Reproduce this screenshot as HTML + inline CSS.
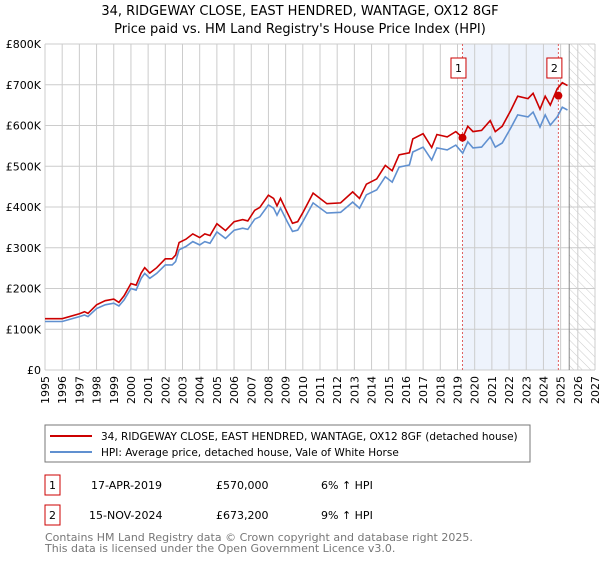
<!DOCTYPE html>
<html><head><meta charset="utf-8"><style>
body{margin:0;background:#fff;font-family:"DejaVu Sans","Liberation Sans",sans-serif}
svg text{font-family:"DejaVu Sans","Liberation Sans",sans-serif}
</style></head><body>
<svg id="c" width="600" height="560" xmlns="http://www.w3.org/2000/svg">
<defs><pattern id="hatch" width="6" height="6" patternUnits="userSpaceOnUse" patternTransform="rotate(-45)"><line x1="0" y1="0" x2="0" y2="6" stroke="#ccc" stroke-width="1"/></pattern></defs>
<text x="300" y="15" text-anchor="middle" font-size="13">34, RIDGEWAY CLOSE, EAST HENDRED, WANTAGE, OX12 8GF</text>
<text x="300" y="33" text-anchor="middle" font-size="13">Price paid vs. HM Land Registry's House Price Index (HPI)</text>
<g id="plot"></g>
<rect x="45" y="425" width="485" height="37" fill="#fff" stroke="#777"/>
<line x1="50" y1="436" x2="92" y2="436" stroke="#cc0000" stroke-width="2"/>
<text x="101" y="440" font-size="10.5">34, RIDGEWAY CLOSE, EAST HENDRED, WANTAGE, OX12 8GF (detached house)</text>
<line x1="50" y1="452" x2="92" y2="452" stroke="#6090d0" stroke-width="2"/>
<text x="101" y="456" font-size="10.5">HPI: Average price, detached house, Vale of White Horse</text>
<g font-size="11">
<rect x="45" y="475" width="15" height="20" fill="none" stroke="#cc0000"/>
<text x="52.5" y="489" text-anchor="middle">1</text>
<text x="91" y="489">17-APR-2019</text>
<text x="216" y="489">£570,000</text>
<text x="321" y="489">6% ↑ HPI</text>
<rect x="45" y="505" width="15" height="20" fill="none" stroke="#cc0000"/>
<text x="52.5" y="519" text-anchor="middle">2</text>
<text x="89" y="519">15-NOV-2024</text>
<text x="216" y="519">£673,200</text>
<text x="321" y="519">9% ↑ HPI</text>
</g>
<text x="45" y="541" font-size="11" fill="#777">Contains HM Land Registry data © Crown copyright and database right 2025.</text>
<text x="45" y="552" font-size="11" fill="#777">This data is licensed under the Open Government Licence v3.0.</text>
</svg>
<script>
const years=[1995,1996,1997,1997.3,1997.5,1998,1998.5,1999,1999.3,1999.6,2000,2000.3,2000.6,2000.8,2001.1,2001.5,2002,2002.4,2002.6,2002.8,2003.2,2003.6,2004,2004.3,2004.6,2005,2005.5,2006,2006.5,2006.8,2007.2,2007.5,2008,2008.3,2008.5,2008.7,2009.1,2009.4,2009.7,2010,2010.6,2011.4,2012.2,2012.9,2013.3,2013.7,2014.3,2014.8,2015.2,2015.6,2016.2,2016.4,2017,2017.5,2017.8,2018.4,2018.9,2019.3,2019.6,2019.9,2020.4,2020.9,2021.2,2021.6,2022.1,2022.5,2023.1,2023.4,2023.8,2024.1,2024.4,2024.8,2025.1,2025.4];
const hpi=[119,119,131,135,131,151,160,164,157,172,200,196,225,237,225,237,258,258,266,295,303,315,307,315,311,339,323,343,348,345,370,376,405,397,380,397,364,340,343,364,410,385,387,412,397,430,442,474,461,498,503,535,547,515,545,540,552,532,560,545,547,572,547,557,594,626,621,633,596,626,601,621,645,638];
const price=[126,126,138,143,139,160,170,174,166,182,212,208,238,251,238,251,273,273,282,313,321,334,325,334,330,359,342,364,369,366,392,399,429,421,403,421,386,360,364,386,434,408,410,437,421,456,469,502,489,528,533,567,580,546,578,572,585,570,598,585,588,612,585,598,637,672,666,679,640,672,650,690,705,698];
const sales=[[2019.29,570],[2024.87,673.2]];
const yTicks=[0,100,200,300,400,500,600,700,800];
const yLabels=["£0","£100K","£200K","£300K","£400K","£500K","£600K","£700K","£800K"];
const xYears=[];for(let y=1995;y<=2027;y++)xYears.push(y);
const X0=45,X1=595,Y0=370,Y1=44;
const xs=v=>X0+(v-1995)*(X1-X0)/32, ys=v=>Y0-v*(Y0-Y1)/800;
const NS="http://www.w3.org/2000/svg", g=document.getElementById('plot');
function mk(t,a){const e=document.createElementNS(NS,t);for(const k in a)e.setAttribute(k,a[k]);g.appendChild(e);return e;}
let e;
e=mk('rect',{x:xs(sales[0][0]),y:Y1,width:xs(sales[1][0])-xs(sales[0][0]),height:Y0-Y1,fill:'#eef3fc'});


e=mk('rect',{x:xs(2025.5),y:Y1,width:X1-xs(2025.5),height:Y0-Y1,fill:'url(#hatch)'});


xYears.forEach(y=>{e=mk('line',{x1:xs(y),x2:xs(y),y1:Y1,y2:Y0,stroke:'#ccc'});


e=mk('text',{x:0,y:0,'font-size':11,'text-anchor':'end',transform:`translate(${xs(y)+4},${Y0+6}) rotate(-90)`});e.textContent=y;

});
yTicks.forEach((v,i)=>{e=mk('line',{x1:X0,x2:X1,y1:ys(v),y2:ys(v),stroke:'#ccc'});


e=mk('text',{x:X0-4,y:ys(v)+4,'font-size':11,'text-anchor':'end'});e.textContent=yLabels[i];

});
e=mk('line',{x1:xs(2025.5),x2:xs(2025.5),y1:Y1,y2:Y0,stroke:'#888'});


sales.forEach((s,i)=>{e=mk('line',{x1:xs(s[0]),x2:xs(s[0]),y1:Y1,y2:Y0,stroke:'#e06060','stroke-dasharray':'2,2'});


const bx=xs(s[0])-10.5;
e=mk('rect',{x:bx-1,y:58,width:15,height:20,fill:'#fff',stroke:'#cc0000'});


e=mk('text',{x:bx+6.5,y:72,'font-size':11,'text-anchor':'middle'});e.textContent=i+1;

});
const pts=a=>years.map((y,i)=>xs(y).toFixed(1)+','+ys(a[i]).toFixed(1)).join(' ');
e=mk('polyline',{points:pts(hpi),fill:'none',stroke:'#6090d0','stroke-width':1.6});


e=mk('polyline',{points:pts(price),fill:'none',stroke:'#cc0000','stroke-width':1.6});


sales.forEach(s=>{e=mk('circle',{cx:xs(s[0]),cy:ys(s[1]),r:4,fill:'#cc0000'});

});
</script>
</body></html>
